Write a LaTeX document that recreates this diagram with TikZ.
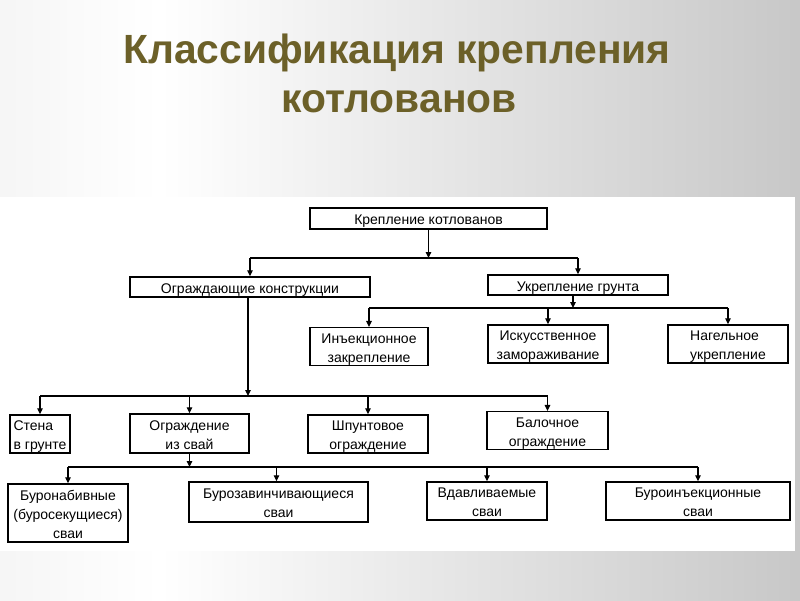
\documentclass[tikz,border=0pt]{standalone}
\usepackage{fontspec}
\setmainfont{Liberation Sans}
\usetikzlibrary{arrows.meta}
\definecolor{titlecol}{RGB}{108,96,40}
\definecolor{bgL}{RGB}{222,222,222}
\definecolor{bgR}{RGB}{165,165,165}
\pgfdeclarehorizontalshading{bgshade}{100bp}{color(0bp)=(bgL); color(35bp)=(white); color(100bp)=(bgR)}
\newcommand\bc[1]{\raisebox{-2.5pt}[\height][\depth]{\begin{tabular}{@{}c@{}}#1\end{tabular}}}
\newcommand\bl[1]{\raisebox{-2.5pt}[\height][\depth]{\begin{tabular}{@{}l@{}}#1\end{tabular}}}
\begin{document}
\begin{tikzpicture}[x=1pt,y=-1pt,
  box/.style={draw, fill=white, line width=1.5pt, inner sep=0pt,
    font=\fontsize{14}{18.8}\selectfont},
  conn/.style={line width=1.1pt},
  arr/.style={conn, -{Triangle[length=6pt,width=5.5pt]}},
  ttl/.style={anchor=base, text=titlecol, font=\fontsize{40.8}{48}\selectfont\bfseries, inner sep=0pt}]
\useasboundingbox (0,0) rectangle (800,600);
\shade[shading=bgshade] (0,0) rectangle (800,600);
\fill[white] (0,197) rectangle (795,551);
% title
\node[ttl] (t1) at (397,63) {Классификация крепления};
\node[ttl] (t2) at (399,112) {котлованов};
% bus coordinates
\coordinate (b1) at (0,258);
\coordinate (b2) at (0,308);
\coordinate (b3) at (0,396);
\coordinate (b4) at (0,467);
% boxes
\node[box, minimum width=237pt, minimum height=21pt] (kk) at (428.5,218.5) {\bc{Крепление котлованов}};
\node[box, minimum width=240pt, minimum height=20pt] (og) at (250,287) {\bc{Ограждающие конструкции}};
\node[box, minimum width=180pt, minimum height=20pt] (uk) at (578,285) {\bc{Укрепление грунта}};
\node[box, minimum width=118pt, minimum height=37pt] (inj) at (369,346.5) {\bc{Инъекционное\\закрепление}};
\node[box, minimum width=120pt, minimum height=38pt] (isk) at (548,344) {\bc{Искусственное\\замораживание}};
\node[box, minimum width=120pt, minimum height=38pt] (nag) at (728,344) {\bl{Нагельное\\укрепление}};
\node[box, minimum width=60pt, minimum height=38pt] (st) at (40,434) {\bl{Стена\\в грунте}};
\node[box, minimum width=119pt, minimum height=39pt] (ogs) at (189.5,433.5) {\bc{Ограждение\\из свай}};
\node[box, minimum width=120pt, minimum height=38pt] (shp) at (368,434) {\bc{Шпунтовое\\ограждение}};
\node[box, minimum width=121pt, minimum height=37pt] (bal) at (547.5,430.5) {\bc{Балочное\\ограждение}};
\node[box, minimum width=120pt, minimum height=58pt] (bn) at (68,513) {\bc{Буронабивные\\(буросекущиеся)\\сваи}};
\node[box, minimum width=179pt, minimum height=40pt] (bz) at (278.5,502) {\bc{Бурозавинчивающиеся\\сваи}};
\node[box, minimum width=120pt, minimum height=38pt] (vd) at (487,501) {\bc{Вдавливаемые\\сваи}};
\node[box, minimum width=184pt, minimum height=38pt] (bi) at (698,501) {\bc{Буроинъекционные\\сваи}};
% level 1
\draw[arr] (kk.south) -- (kk.south |- b1);
\draw[conn] (og.north |- b1) -- (uk.north |- b1);
\draw[arr] (og.north |- b1) -- (og.north);
\draw[arr] (uk.north |- b1) -- (uk.north);
% level 2 (soil)
\draw[arr] ([xshift=-5pt]uk.south) -- ([xshift=-5pt]uk.south |- b2);
\draw[conn] (inj.north |- b2) -- (nag.north |- b2);
\draw[arr] (inj.north |- b2) -- (inj.north);
\draw[arr] (isk.north |- b2) -- (isk.north);
\draw[arr] (nag.north |- b2) -- (nag.north);
% level 2 (walls)
\draw[arr] ([xshift=-2pt]og.south) -- ([xshift=-2pt]og.south |- b3);
\draw[conn] (st.north |- b3) -- (bal.north |- b3);
\draw[arr] (st.north |- b3) -- (st.north);
\draw[arr] (ogs.north |- b3) -- (ogs.north);
\draw[arr] (shp.north |- b3) -- (shp.north);
\draw[arr] (bal.north |- b3) -- (bal.north);
% level 3 (piles)
\draw[arr] (ogs.south) -- (ogs.south |- b4);
\draw[conn] (bn.north |- b4) -- (bi.north |- b4);
\draw[arr] (bn.north |- b4) -- (bn.north);
\draw[arr] ([xshift=-2pt]bz.north |- b4) -- ([xshift=-2pt]bz.north);
\draw[arr] (vd.north |- b4) -- (vd.north);
\draw[arr] (bi.north |- b4) -- (bi.north);
\end{tikzpicture}
\end{document}
